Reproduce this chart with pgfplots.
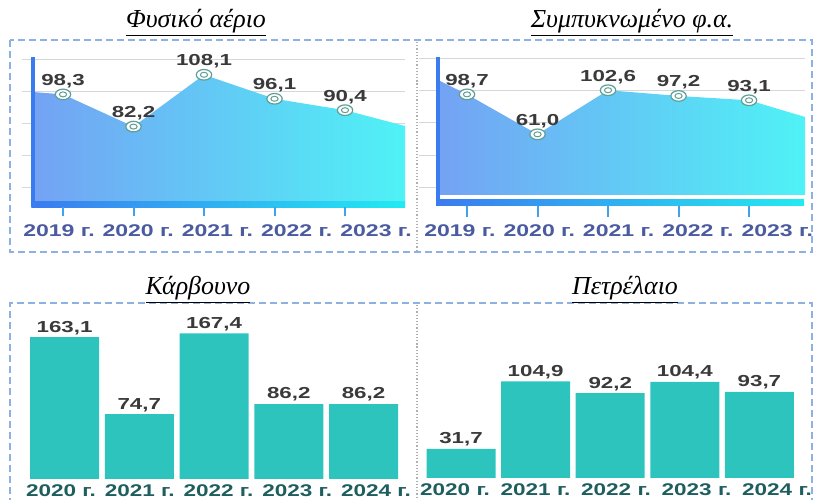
\documentclass[border=0pt]{standalone}
\usepackage{fontspec}
\setmainfont{Liberation Serif}
\newfontfamily\tickfont{Liberation Sans Bold}[FakeStretch=1.36]
\newfontfamily\btickfont{Liberation Sans Bold}[FakeStretch=1.33]
\newfontfamily\valfont{Liberation Sans Bold}[FakeStretch=1.4]
\usepackage{pgfplots}
\pgfplotsset{compat=1.18}
\definecolor{gridc}{HTML}{D5D7DE}
\definecolor{boxc}{HTML}{8EB1E3}
\definecolor{divc}{HTML}{B0B0B0}
\definecolor{barc}{HTML}{2EC4BE}
\definecolor{valc}{HTML}{3A3A3A}
\definecolor{toptick}{HTML}{4A5BA0}
\definecolor{bottick}{HTML}{1F5E5E}
\definecolor{areaL}{HTML}{74A2F4}
\definecolor{areaM}{HTML}{67CBF6}
\definecolor{areaR}{HTML}{4FF2F6}
\definecolor{axL}{HTML}{3B7BF0}
\definecolor{axR}{HTML}{22EAF2}
\definecolor{tickc}{HTML}{3DA2F0}
\definecolor{markc}{HTML}{5E9F96}

\pgfplotstableread{
x y lab
0 98.3 98,3
1 82.2 82,2
2 108.1 108,1
3 96.1 96,1
4 90.4 90,4
}\gasdata
\pgfplotstableread{
x y lab
0 98.7 98,7
1 61.0 61,0
2 102.6 102,6
3 97.2 97,2
4 93.1 93,1
}\lngdata
\pgfplotstableread{
x y lab
0 163.1 163,1
1 74.7 74,7
2 167.4 167,4
3 86.2 86,2
4 86.2 86,2
}\coaldata
\pgfplotstableread{
x y lab
0 31.7 31,7
1 104.9 104,9
2 92.2 92,2
3 104.4 104,4
4 93.7 93,7
}\oildata

\pgfplotsset{
  common/.style={scale only axis, anchor=south west, clip=false,
    axis x line*=bottom, axis y line*=left, axis line style={draw=none},
    major tick length=0pt,
    xticklabel style={anchor=base, inner sep=0pt}},
  toparea/.style={common, ymajorgrids, major grid style={gridc, line width=0.9bp},
    yticklabels={}, ytick style={draw=none},
    xticklabels={2019 г.,2020 г.,2021 г.,2022 г.,2023 г.},
    xticklabel style={font=\tickfont\fontsize{17}{17}\selectfont, text=toptick}},
  botbars/.style={common, ytick=\empty, ybar, bar width=69bp,
    xticklabels={2020 г.,2021 г.,2022 г.,2023 г.,2024 г.},
    xticklabel style={font=\btickfont\fontsize{17}{17}\selectfont, text=bottick, yshift=-18bp},
    nodes near coords, point meta=explicit symbolic,
    nodes near coords style={font=\valfont\fontsize{16}{16}\selectfont, text=valc, anchor=base, inner sep=0pt, yshift=5bp}},
  outermark/.style={only marks, mark=*, mark size=5.3bp, mark options={xscale=1.45, fill=white, draw=markc, line width=1.2bp},
    nodes near coords, point meta=explicit symbolic,
    nodes near coords style={font=\valfont\fontsize{16}{16}\selectfont, text=valc, anchor=base, inner sep=0pt, yshift=9bp}},
  innermark/.style={only marks, mark=o, mark size=2.5bp, mark options={xscale=1.45, draw=markc, line width=1bp}}
}

\begin{document}
\begin{tikzpicture}[x=1bp,y=1bp]
\useasboundingbox (0,0) rectangle (816,500);
% frames
\draw[boxc, line width=1.3bp, dash pattern=on 7bp off 4bp] (10,460) rectangle (812,248);
\draw[boxc, line width=1.3bp, dash pattern=on 7bp off 4bp] (10,-5) -- (10,197) -- (812,197) -- (812,-5);
\draw[divc, line width=1.2bp, dotted] (417,458) -- (417,250);
\draw[divc, line width=1.2bp, dotted] (417,195) -- (417,0);
% titles
\node[anchor=base, font=\fontsize{26}{30}\selectfont\itshape] at (196,472) {\underline{Φυσικό αέριο}};
\node[anchor=base, font=\fontsize{26}{30}\selectfont\itshape] at (632,472) {\underline{Συμπυκνωμένο φ.α.}};
\node[anchor=base, font=\fontsize{26}{30}\selectfont\itshape] at (198,205) {\underline{Κάρβουνο}};
\node[anchor=base, font=\fontsize{26}{30}\selectfont\itshape] at (625,205) {\underline{Πετρέλαιο}};

% top-left: natural gas
\begin{axis}[toparea, at={(22bp,295bp)}, width=383bp, height=148bp,
  xmin=-0.5816, xmax=4.851, ymin=43, ymax=117, ytick={52,68,84,100,116},
  xtick={-0.057,1.067,2.191,3.315,4.44},
  xticklabel style={yshift=-32bp}]
\addplot[draw=none, left color=areaL, middle color=areaM, right color=areaR]
  coordinates {(-0.426,43) (-0.426,99.5) (0,98.3) (1,82.2) (2,108.1) (3,96.1) (4,90.4) (4.851,82.5) (4.851,43)} -- cycle;
\draw[axL, line width=4bp] (axis cs:-0.426,42) -- (axis cs:-0.426,117);
\shade[left color=axL, right color=axR] (axis cs:-0.45,41.8) rectangle (axis cs:4.851,44.5);
\pgfplotsinvokeforeach{0,...,4}{\draw[tickc, line width=2bp] (axis cs:#1,41.8) -- (axis cs:#1,37.5);}
\addplot[outermark] table[x=x, y=y, meta=lab] {\gasdata};
\addplot[innermark] table[x=x, y=y] {\gasdata};
\end{axis}

% top-right: LNG
\begin{axis}[toparea, at={(419bp,305bp)}, width=386bp, height=138bp,
  xmin=-0.681, xmax=4.794, ymin=3.77, ymax=133.96, ytick={11.3,41.5,72.6,102.8,133},
  xtick={-0.1,1.025,2.15,3.275,4.4},
  xticklabel style={yshift=-42bp}]
\addplot[draw=none, left color=areaL, middle color=areaM, right color=areaR]
  coordinates {(-0.411,3.77) (-0.411,112.3) (0,98.7) (1,61.0) (2,102.6) (3,97.2) (4,93.1) (4.794,77.4) (4.794,3.77)} -- cycle;
\draw[axL, line width=4bp] (axis cs:-0.411,-6.6) -- (axis cs:-0.411,133.96);
\shade[left color=axL, right color=axR] (axis cs:-0.43,-0.94) rectangle (axis cs:4.78,-6.6);
\pgfplotsinvokeforeach{0,...,4}{\draw[tickc, line width=2bp] (axis cs:#1,-6.6) -- (axis cs:#1,-17);}
\addplot[outermark] table[x=x, y=y, meta=lab] {\lngdata};
\addplot[innermark] table[x=x, y=y] {\lngdata};
\end{axis}

% bottom-left: coal
\begin{axis}[botbars, at={(12.2bp,21bp)}, width=396.2bp, height=174bp,
  xmin=-0.7, xmax=4.6, ymin=0, ymax=200,
  xtick={-0.047,1.006,2.06,3.113,4.167}]
\addplot[fill=barc, draw=none] table[x=x, y=y, meta=lab] {\coaldata};
\end{axis}

% bottom-right: oil
\begin{axis}[botbars, at={(419bp,22bp)}, width=386bp, height=173bp,
  xmin=-0.563, xmax=4.611, ymin=0, ymax=188,
  xtick={-0.08,0.999,2.078,3.157,4.236}]
\addplot[fill=barc, draw=none] table[x=x, y=y, meta=lab] {\oildata};
\end{axis}
\end{tikzpicture}
\end{document}
